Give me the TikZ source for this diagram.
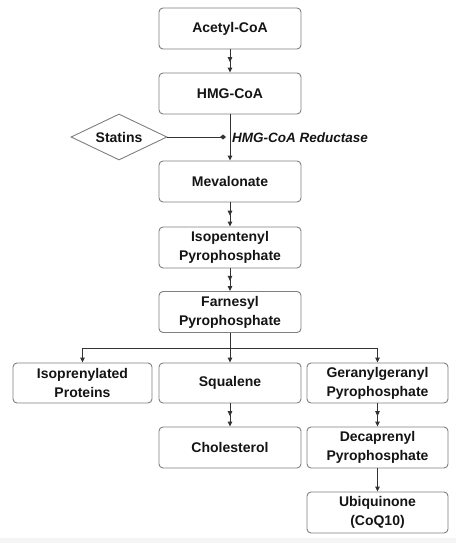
\documentclass[tikz,border=0pt]{standalone}
\usepackage{fontspec}
\setmainfont{Liberation Sans}
\usetikzlibrary{arrows.meta,shapes.geometric,decorations.markings}
\definecolor{boxline}{HTML}{7F7F7F}
\definecolor{txt}{HTML}{141414}
\tikzset{
  stepbox/.style={draw=boxline,line width=0.9pt,rounded corners=4pt,fill=white,
    minimum width=142pt,minimum height=41pt,align=center,text=txt,
    font=\fontsize{14}{19}\selectfont\bfseries,inner sep=0pt},
  conn/.style={draw=black!80,line width=1pt,-{Triangle[length=5pt,width=4.5pt]}},
  midconn/.style={conn,postaction={decorate},decoration={markings,
    mark=at position 0.55 with {\arrow{Triangle[length=5pt,width=4.5pt]}}}},
}
\begin{document}
\begin{tikzpicture}[x=1pt,y=-1pt]
\useasboundingbox (0,0) rectangle (456,543);
\fill[black!4] (0,538) rectangle (456,543);
\node[stepbox] (acetyl) at (230,28.5) {Acetyl-CoA};
\node[stepbox] (hmg) at (230,93.5) {HMG-CoA};
\node[stepbox] (meva) at (230,181.5) {Mevalonate};
\node[stepbox] (ipp) at (230,247.5) {Isopentenyl\\Pyrophosphate};
\node[stepbox] (fpp) at (230,312) {Farnesyl\\Pyrophosphate};
\node[stepbox,minimum width=139pt,minimum height=40pt] (iso) at (82.5,383) {Isoprenylated\\Proteins};
\node[stepbox,minimum height=40pt] (squa) at (230,383) {Squalene};
\node[stepbox,minimum width=141pt,minimum height=40pt] (ggpp) at (377.5,383) {Geranylgeranyl\\Pyrophosphate};
\node[stepbox] (chol) at (230,447.5) {Cholesterol};
\node[stepbox,minimum width=141pt] (dpp) at (377.5,447.5) {Decaprenyl\\Pyrophosphate};
\node[stepbox,minimum width=141pt] (ubi) at (377.5,512.5) {Ubiquinone\\(CoQ10)};
\node[diamond,aspect=2,draw=boxline,line width=0.9pt,minimum width=96pt,minimum height=46pt,
  inner sep=0pt,text=txt,font=\fontsize{14}{17}\selectfont\bfseries] (statins) at (119,137) {Statins};
\coordinate (inh) at (226,137);
\coordinate (br) at (230,348);
\node[anchor=west,inner sep=0pt,text=txt,font=\fontsize{13.5}{16}\selectfont\bfseries\itshape] (enz) at (232,137.5) {HMG-CoA Reductase};
% connectors
\draw[midconn] (acetyl) -- (hmg);
\draw[conn] (hmg) -- (meva);
\draw[midconn] (meva) -- (ipp);
\draw[midconn] (ipp) -- (fpp);
\draw[draw=black!80,line width=1pt,-{Diamond[length=6pt,width=5pt]}] (statins.east) -- (inh);
\draw[draw=black!80,line width=1pt] (fpp.south) -- (br);
\draw[conn] (br) -| (iso.north);
\draw[conn] (br) -- (squa.north);
\draw[conn] (br) -| (ggpp.north);
\draw[midconn] (squa) -- (chol);
\draw[midconn] (ggpp) -- (dpp);
\draw[conn] (dpp) -- (ubi);
\end{tikzpicture}
\end{document}
